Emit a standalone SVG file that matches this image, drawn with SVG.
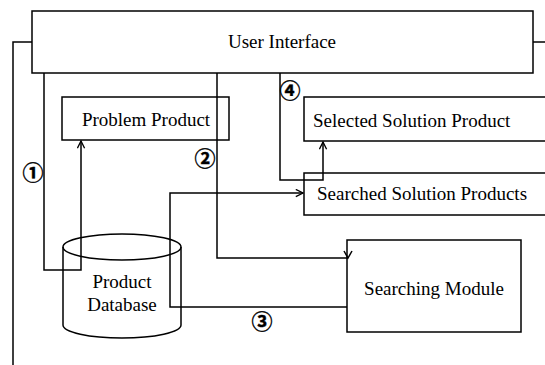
<svg xmlns="http://www.w3.org/2000/svg" width="545" height="365" viewBox="0 0 545 365">
<defs>
<style>
.box{fill:none;stroke:#000;stroke-width:1.5}
.ln{fill:none;stroke:#000;stroke-width:1.5}
.t{font-family:'Liberation Serif','Times New Roman',serif;font-size:19px;fill:#000}
.n{font-family:'Noto Sans CJK JP','Noto Sans CJK SC',sans-serif;font-size:21px;font-weight:bold;fill:#000;stroke:#000;stroke-width:0.4;text-anchor:middle;dominant-baseline:central}
</style>
<marker id="arr" viewBox="0 0 10 10" refX="9" refY="5" markerWidth="9" markerHeight="9" markerUnits="userSpaceOnUse" orient="auto">
<path d="M1,1 L9,5 L1,9" fill="none" stroke="#000" stroke-width="1.5"/>
</marker>
</defs>
<rect width="545" height="365" fill="#fff"/>
<g id="connectors">
<path class="ln" d="M32,42 H13 V365"/>
<path class="ln" d="M533,42 H545"/>
<path class="ln" d="M44,73 V270 H81 V141" marker-end="url(#arr)"/>
<path class="ln" d="M217,73 V258 H348"/>
<path class="ln" d="M344,251 L348,258 L352,251"/>
<path class="ln" d="M347,307 H170 V193 H303" marker-end="url(#arr)"/>
<path class="ln" d="M280,73 V180 H323 V142" marker-end="url(#arr)"/>
</g>
<g id="user-interface">
<rect class="box" x="32" y="11" width="501" height="62"/>
<text class="t" x="282" y="48" text-anchor="middle">User Interface</text>
</g>
<g id="problem-product">
<rect class="box" x="62" y="97" width="167" height="43"/>
<text class="t" x="146" y="126" text-anchor="middle">Problem Product</text>
</g>
<g id="selected-solution-product">
<rect class="box" x="304" y="97" width="260" height="44"/>
<text class="t" x="313" y="127">Selected Solution Product</text>
</g>
<g id="searched-solution-products">
<rect class="box" x="304" y="173" width="260" height="42"/>
<text class="t" x="317" y="200">Searched Solution Products</text>
</g>
<g id="searching-module">
<rect class="box" x="347" y="240" width="174" height="92"/>
<text class="t" x="434" y="295" text-anchor="middle">Searching Module</text>
</g>
<g id="product-database">
<path class="box" d="M63,247 V325 A59,13 0 0 0 181,325 V247"/>
<ellipse class="box" cx="122" cy="247" rx="59" ry="13"/>
<text class="t" x="122" y="288" text-anchor="middle">Product</text>
<text class="t" x="122" y="311" text-anchor="middle">Database</text>
</g>
<g id="labels">
<text class="n" x="33" y="171">①</text>
<text class="n" x="205" y="157">②</text>
<text class="n" x="262" y="320">③</text>
<text class="n" x="290" y="89">④</text>
</g>
</svg>
